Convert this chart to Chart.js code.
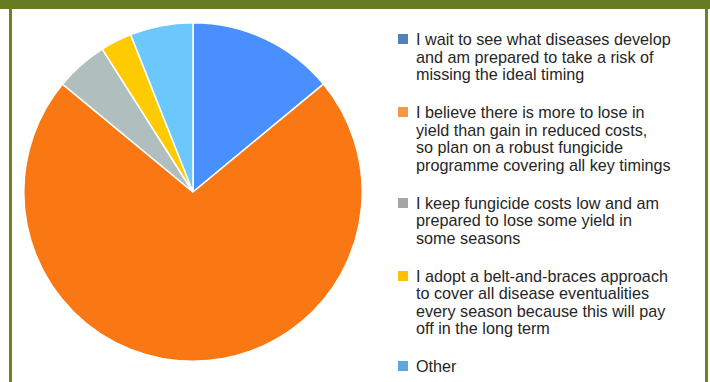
<!DOCTYPE html>
<html>
<head>
<meta charset="utf-8">
<script src="https://cdn.jsdelivr.net/npm/chart.js@4.4.1/dist/chart.umd.min.js"></script>
<style>
  html, body { margin: 0; padding: 0; background: #ffffff; }
  body { width: 710px; height: 382px; position: relative; overflow: hidden; font-family: "Liberation Sans", Arial, Helvetica, sans-serif; }
  #band { position: absolute; left: 0; top: 0; width: 710px; height: 9px; background: #677c22; }
  #frameL { position: absolute; left: 9px; top: 9px; width: 3px; height: 373px; background: #6b8526; }
  #frameR { position: absolute; left: 705px; top: 9px; width: 3px; height: 373px; background: #6b8526; }
  #pieWrap { position: absolute; left: 23px; top: 22px; width: 340px; height: 340px; }
  #legend { position: absolute; left: 398px; top: 31px; width: 305px; margin: 0; padding: 0; list-style: none; }
  #legend li { position: relative; padding-left: 18px; font-size: 16.2px; line-height: 17.5px; color: #262626; margin-bottom: 20.5px; white-space: nowrap; }
  #legend li span.box { position: absolute; left: 0; top: 3px; width: 10px; height: 10px; }
</style>
</head>
<body>
<div id="band"></div>
<div id="frameL"></div>
<div id="frameR"></div>
<div id="pieWrap"><canvas id="pie" width="340" height="340"></canvas></div>
<ul id="legend"></ul>
<script>
// Survey answers: share of respondents (%) per fungicide approach
const categories = [
  ["I wait to see what diseases develop", "and am prepared to take a risk of", "missing the ideal timing"],
  ["I believe there is more to lose in", "yield than gain in reduced costs,", "so plan on a robust fungicide", "programme covering all key timings"],
  ["I keep fungicide costs low and am", "prepared to lose some yield in", "some seasons"],
  ["I adopt a belt-and-braces approach", "to cover all disease eventualities", "every season because this will pay", "off in the long term"],
  ["Other"]
];
const shares = [14, 72, 5, 3, 6];
const sliceColours = ["#4a8ffe", "#f97814", "#b0bfbd", "#fecb00", "#6cc7fd"];
const keyColours = ["#4f81bd", "#f79646", "#a5a5a5", "#ffc000", "#5ea7dc"];

new Chart(document.getElementById("pie"), {
  type: "pie",
  data: {
    labels: categories.map(c => c.join(" ")),
    datasets: [{
      data: shares,
      backgroundColor: sliceColours,
      borderColor: "#ffffff",
      borderWidth: 1.5
    }]
  },
  options: {
    responsive: false,
    animation: false,
    layout: { padding: 0 },
    plugins: { legend: { display: false }, tooltip: { enabled: false } }
  }
});

// Key on the right, one entry per category
const legend = document.getElementById("legend");
categories.forEach((lines, i) => {
  const li = document.createElement("li");
  const box = document.createElement("span");
  box.className = "box";
  box.style.background = keyColours[i];
  li.appendChild(box);
  lines.forEach((t, j) => {
    if (j > 0) li.appendChild(document.createElement("br"));
    li.appendChild(document.createTextNode(t));
  });
  legend.appendChild(li);
});
</script>
</body>
</html>
